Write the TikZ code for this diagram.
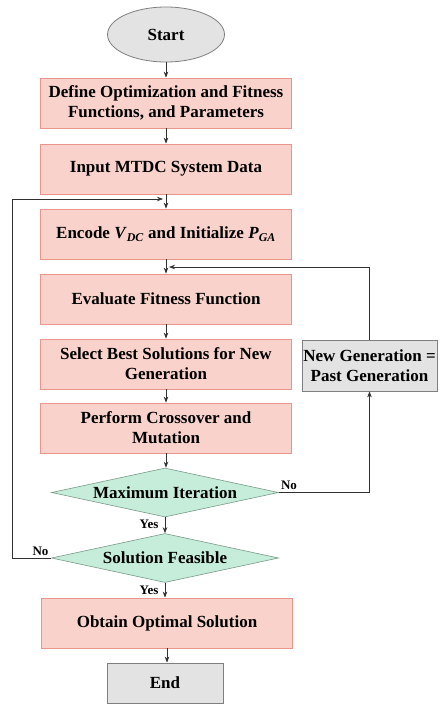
\documentclass[tikz,border=0pt]{standalone}
\usepackage{fontspec}
\setmainfont{Liberation Serif}
\usetikzlibrary{shapes.geometric,arrows.meta}
\definecolor{pinkfill}{HTML}{F9D3CB}
\definecolor{pinkline}{HTML}{E8958E}
\definecolor{greenfill}{HTML}{C5EDD9}
\definecolor{greenline}{HTML}{7A9A8A}
\definecolor{grayfill}{HTML}{E3E3E3}
\definecolor{grayline}{HTML}{7F7F7F}
\definecolor{wire}{HTML}{303030}
\begin{document}
\begin{tikzpicture}[x=1pt,y=-1pt,
  mainfont/.style={font=\fontsize{17}{20}\selectfont\bfseries},
  proc/.style={rectangle,draw=pinkline,fill=pinkfill,line width=0.8pt,
    minimum width=251pt,minimum height=50pt,align=center,inner sep=0pt,mainfont},
  term/.style={rectangle,draw=grayline,fill=grayfill,line width=0.8pt,
    align=center,inner sep=0pt,mainfont},
  dec/.style={diamond,draw=greenline,fill=greenfill,line width=0.6pt,aspect=4.6,
    minimum width=227pt,minimum height=49pt,inner sep=0pt,mainfont},
  lbl/.style={font=\fontsize{13}{15}\selectfont\bfseries,inner sep=0pt},
  arr/.style={draw=wire,line width=0.7pt,-{Stealth[length=6pt,width=4.5pt]}}]
\useasboundingbox (0,0) rectangle (439,704);
\node[ellipse,draw=grayline,fill=grayfill,line width=0.8pt,minimum width=117pt,
  minimum height=55pt,inner sep=0pt,mainfont] (start) at (166,34.5) {Start};
\node[proc] (def) at (166,103) {Define Optimization and Fitness\\Functions, and Parameters};
\node[proc] (inp) at (166,169) {Input MTDC System Data};
\node[proc] (enc) at (166,234) {Encode \textit{V}\textsubscript{\textit{DC}} and Initialize \textit{P}\textsubscript{\textit{GA}}};
\node[proc] (eval) at (166,299) {Evaluate Fitness Function};
\node[proc] (sel) at (166,364) {Select Best Solutions for New\\Generation};
\node[proc] (cross) at (166,428) {Perform Crossover and\\Mutation};
\node[dec] (maxit) at (165,492.5) {Maximum Iteration};
\node[dec] (feas) at (165,558) {Solution Feasible};
\node[proc] (opt) at (167,623) {Obtain Optimal Solution};
\node[term,minimum width=116pt,minimum height=40pt] (end) at (165,683) {End};
\node[term,minimum width=135pt,minimum height=51pt] (newgen) at (369.5,365.5) {New Generation =\\Past Generation};
\coordinate (j1) at (163,199);
\coordinate (j2) at (169,267);
\coordinate (lcorner) at (12,0);
\draw[arr] (start.south) -- (start.south |- def.north);
\draw[arr] (def.south) -- (def.south |- inp.north);
\draw[arr] (inp.south) -- (inp.south |- enc.north);
\draw[arr] (enc.south) -- (enc.south |- eval.north);
\draw[arr] (eval.south) -- (eval.south |- sel.north);
\draw[arr] (sel.south) -- (sel.south |- cross.north);
\draw[arr] (cross.south) -- (cross.south |- maxit.north);
\draw[arr] (maxit.south) -- (maxit.south |- feas.north);
\draw[arr] (feas.south) -- (feas.south |- opt.north);
\draw[arr] (opt.south) -- (opt.south |- end.north);
\draw[arr] (feas.west) -- (feas.west -| lcorner) |- (j1);
\draw[arr] (maxit.east) -| (newgen.south);
\draw[arr] (newgen.north) |- (j2);
\node[lbl] (no1) at (289,485.5) {No};
\node[lbl] (yes1) at (149,524) {Yes};
\node[lbl] (no2) at (40.5,551.5) {No};
\node[lbl] (yes2) at (149,590) {Yes};
\end{tikzpicture}
\end{document}
